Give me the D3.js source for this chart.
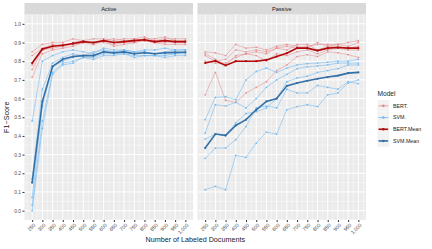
<!DOCTYPE html>
<meta charset='utf-8'>
<head>
    <title>F1 by labeled documents</title>
    <script src='https://cdn.jsdelivr.net/npm/d3@7'></script>
</head>
<style>
    body { margin: 0; background: white; }
    text { font-family: 'Liberation Sans', Arial, sans-serif; }
</style>
<svg></svg>
<script>
    var vWidth = 432, vHeight = 249;

    // x values (number of labeled documents)
    var docs = [250, 300, 350, 400, 450, 500, 550, 600, 650, 700, 750, 800, 850, 900, 950, 1000];
    var yTicks = [0, 0.1, 0.2, 0.3, 0.4, 0.5, 0.6, 0.7, 0.8, 0.9, 1.0];
    var panels = ['Active', 'Passive'];
    var models = ['BERT.', 'SVM.', 'BERT.Mean', 'SVM.Mean'];

    // Active - individual runs
    var activeBert = [
        [0.85, 0.89, 0.90, 0.90, 0.92, 0.91, 0.92, 0.92, 0.91, 0.92, 0.92, 0.93, 0.91, 0.92, 0.92, 0.92],
        [0.83, 0.87, 0.89, 0.88, 0.90, 0.91, 0.89, 0.91, 0.92, 0.91, 0.91, 0.92, 0.92, 0.93, 0.91, 0.91],
        [0.78, 0.86, 0.88, 0.89, 0.89, 0.90, 0.90, 0.91, 0.90, 0.90, 0.92, 0.91, 0.90, 0.91, 0.90, 0.90],
        [0.755, 0.86, 0.87, 0.88, 0.89, 0.90, 0.90, 0.90, 0.89, 0.90, 0.90, 0.91, 0.90, 0.90, 0.90, 0.90],
        [0.715, 0.84, 0.86, 0.87, 0.88, 0.90, 0.89, 0.91, 0.88, 0.89, 0.90, 0.91, 0.90, 0.89, 0.89, 0.89]
    ];
    var activeSvm = [
        [0.48, 0.80, 0.83, 0.85, 0.86, 0.85, 0.84, 0.87, 0.86, 0.86, 0.85, 0.86, 0.86, 0.87, 0.86, 0.86],
        [0.17, 0.65, 0.79, 0.82, 0.84, 0.83, 0.85, 0.86, 0.85, 0.86, 0.85, 0.85, 0.84, 0.85, 0.86, 0.86],
        [0.07, 0.56, 0.77, 0.80, 0.82, 0.83, 0.83, 0.85, 0.84, 0.85, 0.84, 0.85, 0.84, 0.84, 0.84, 0.85],
        [0.03, 0.48, 0.74, 0.79, 0.80, 0.82, 0.82, 0.84, 0.84, 0.84, 0.83, 0.83, 0.83, 0.83, 0.84, 0.84],
        [0.00, 0.44, 0.73, 0.78, 0.79, 0.82, 0.81, 0.83, 0.83, 0.84, 0.82, 0.83, 0.83, 0.82, 0.83, 0.83]
    ];
    var activeBertMean = [0.79, 0.865, 0.88, 0.885, 0.895, 0.905, 0.90, 0.91, 0.90, 0.905, 0.91, 0.915, 0.905, 0.91, 0.905, 0.905];
    var activeSvmMean = [0.15, 0.585, 0.772, 0.81, 0.825, 0.83, 0.83, 0.85, 0.845, 0.85, 0.84, 0.845, 0.84, 0.845, 0.847, 0.848];

    // Passive - individual runs
    var passiveBert = [
        [0.85, 0.845, 0.83, 0.89, 0.87, 0.875, 0.86, 0.88, 0.89, 0.88, 0.87, 0.90, 0.88, 0.89, 0.88, 0.90],
        [0.83, 0.80, 0.81, 0.86, 0.85, 0.86, 0.85, 0.87, 0.88, 0.87, 0.88, 0.89, 0.89, 0.89, 0.90, 0.91],
        [0.80, 0.79, 0.79, 0.82, 0.84, 0.85, 0.84, 0.87, 0.86, 0.89, 0.89, 0.86, 0.88, 0.88, 0.87, 0.88],
        [0.84, 0.81, 0.78, 0.83, 0.84, 0.83, 0.80, 0.84, 0.83, 0.85, 0.86, 0.84, 0.86, 0.87, 0.86, 0.86],
        [0.62, 0.74, 0.59, 0.58, 0.63, 0.66, 0.69, 0.75, 0.78, 0.825, 0.835, 0.825, 0.85, 0.845, 0.835, 0.82]
    ];
    var passiveSvm = [
        [0.487, 0.606, 0.61, 0.594, 0.70, 0.745, 0.763, 0.74, 0.763, 0.78, 0.787, 0.79, 0.795, 0.80, 0.80, 0.81],
        [0.415, 0.567, 0.56, 0.58, 0.55, 0.60, 0.66, 0.70, 0.73, 0.76, 0.77, 0.775, 0.78, 0.79, 0.79, 0.79],
        [0.383, 0.41, 0.40, 0.47, 0.52, 0.53, 0.55, 0.60, 0.69, 0.71, 0.72, 0.74, 0.75, 0.76, 0.78, 0.78],
        [0.28, 0.335, 0.335, 0.38, 0.45, 0.55, 0.56, 0.55, 0.65, 0.63, 0.63, 0.67, 0.66, 0.65, 0.69, 0.68],
        [0.112, 0.13, 0.112, 0.296, 0.285, 0.362, 0.42, 0.41, 0.54, 0.557, 0.567, 0.557, 0.62, 0.63, 0.683, 0.70]
    ];
    var passiveBertMean = [0.79, 0.802, 0.777, 0.80, 0.80, 0.80, 0.807, 0.825, 0.843, 0.87, 0.87, 0.857, 0.87, 0.873, 0.87, 0.87];
    var passiveSvmMean = [0.335, 0.41, 0.403, 0.456, 0.487, 0.54, 0.585, 0.60, 0.668, 0.683, 0.695, 0.706, 0.715, 0.723, 0.736, 0.74];

    var colors = {'BERT.': '#e3878c', 'SVM.': '#6cb6f2', 'BERT.Mean': '#b00a0a', 'SVM.Mean': '#3470a6'};

    var svg = d3.select('svg').attr('width', vWidth).attr('height', vHeight);

    var pTop = 14.5, pBottom = 220;
    var panelX = [[24.5, 193], [197.5, 366]];
    var y = d3.scaleLinear().domain([-0.05, 1.05]).range([pBottom, pTop]);

    var panelData = [
        {bert: activeBert, svm: activeSvm, bertMean: activeBertMean, svmMean: activeSvmMean},
        {bert: passiveBert, svm: passiveSvm, bertMean: passiveBertMean, svmMean: passiveSvmMean}
    ];

    panels.forEach(function(name, i) {
        var x = d3.scaleLinear().domain([212.5, 1037.5]).range(panelX[i]);
        var g = svg.append('g');
        var x0 = panelX[i][0], x1 = panelX[i][1];

        g.append('rect').attr('x', x0).attr('y', pTop).attr('width', x1 - x0).attr('height', pBottom - pTop)
            .attr('fill', '#ebebeb');

        // minor grid
        var xMinor = d3.range(225, 1026, 50);
        var yMinor = d3.range(-0.05, 1.06, 0.1);
        g.selectAll('.xmin').data(xMinor).enter().append('line')
            .attr('x1', function(d) { return x(d); }).attr('x2', function(d) { return x(d); })
            .attr('y1', pTop).attr('y2', pBottom).attr('stroke', '#fafafa').attr('stroke-width', 0.5);
        g.selectAll('.ymin').data(yMinor).enter().append('line')
            .attr('y1', function(d) { return y(d); }).attr('y2', function(d) { return y(d); })
            .attr('x1', x0).attr('x2', x1).attr('stroke', '#fafafa').attr('stroke-width', 0.5);
        // major grid
        g.selectAll('.xmaj').data(docs).enter().append('line')
            .attr('x1', function(d) { return x(d); }).attr('x2', function(d) { return x(d); })
            .attr('y1', pTop).attr('y2', pBottom).attr('stroke', 'white').attr('stroke-width', 1);
        g.selectAll('.ymaj').data(yTicks).enter().append('line')
            .attr('y1', function(d) { return y(d); }).attr('y2', function(d) { return y(d); })
            .attr('x1', x0).attr('x2', x1).attr('stroke', 'white').attr('stroke-width', 1);

        // strip
        g.append('rect').attr('x', x0).attr('y', 3).attr('width', x1 - x0).attr('height', pTop - 3)
            .attr('fill', '#d9d9d9');
        g.append('text').attr('x', (x0 + x1) / 2).attr('y', 10.8).attr('text-anchor', 'middle')
            .attr('font-size', 5.6).attr('fill', '#1a1a1a').text(name);

        // x axis
        var xAxis = g.append('g').attr('transform', 'translate(0,' + pBottom + ')')
            .call(d3.axisBottom(x).tickValues(docs).tickSize(2).tickPadding(0));
        xAxis.select('.domain').remove();
        xAxis.selectAll('line').attr('stroke', '#333');
        xAxis.selectAll('text').attr('font-size', 5.1).attr('fill', '#4d4d4d')
            .attr('text-anchor', 'end').attr('y', 0).attr('dy', '0.35em')
            .attr('transform', 'translate(1.8,4.3) rotate(-45)');

        var line = d3.line().x(function(d, k) { return x(docs[k]); }).y(function(d) { return y(d); });
        var pd = panelData[i];

        function drawSeries(vals, color, width, r, op) {
            g.append('path').datum(vals).attr('d', line).attr('fill', 'none')
                .attr('stroke', color).attr('stroke-width', width).attr('opacity', op);
            g.append('g').selectAll('circle').data(vals).enter().append('circle')
                .attr('cx', function(d, k) { return x(docs[k]); }).attr('cy', function(d) { return y(d); })
                .attr('r', r).attr('fill', color).attr('opacity', op);
        }
        pd.bert.forEach(function(run) { drawSeries(run, colors['BERT.'], 0.6, 0.9, 0.85); });
        pd.svm.forEach(function(run) { drawSeries(run, colors['SVM.'], 0.6, 0.9, 0.9); });
        drawSeries(pd.bertMean, colors['BERT.Mean'], 1.6, 1.1, 1);
        drawSeries(pd.svmMean, colors['SVM.Mean'], 1.6, 1.1, 1);
    });

    // y axis
    var yAxis = svg.append('g').attr('transform', 'translate(' + panelX[0][0] + ',0)')
        .call(d3.axisLeft(y).tickValues(yTicks).tickFormat(d3.format('.1f')).tickSize(2).tickPadding(1.5));
    yAxis.select('.domain').remove();
    yAxis.selectAll('line').attr('stroke', '#333');
    yAxis.selectAll('text').attr('font-size', 4.9).attr('fill', '#4d4d4d');

    // axis titles
    svg.append('text').attr('x', (panelX[0][0] + panelX[1][1]) / 2).attr('y', 241.5)
        .attr('text-anchor', 'middle').attr('font-size', 7.2).attr('fill', '#1a1a1a')
        .text('Number of Labeled Documents');
    svg.append('text').attr('transform', 'translate(9,' + ((pTop + pBottom) / 2) + ') rotate(-90)')
        .attr('text-anchor', 'middle').attr('font-size', 7.2).attr('fill', '#1a1a1a').text('F1\u2212Score');

    // legend
    var lg = svg.append('g').attr('transform', 'translate(377.5,0)');
    lg.append('text').attr('x', 0).attr('y', 96).attr('font-size', 6.6).attr('fill', '#1a1a1a').text('Model');
    var items = lg.selectAll('.item').data(models).enter().append('g')
        .attr('transform', function(d, k) { return 'translate(0,' + (100 + k * 11.7) + ')'; });
    items.append('rect').attr('width', 11.7).attr('height', 11.7).attr('fill', '#f2f2f2');
    items.append('line').attr('x1', 1).attr('x2', 10.7).attr('y1', 5.85).attr('y2', 5.85)
        .attr('stroke', function(d) { return colors[d]; })
        .attr('stroke-width', function(d) { return d.indexOf('Mean') > 0 ? 1.6 : 0.8; });
    items.append('circle').attr('cx', 5.85).attr('cy', 5.85).attr('r', 1.3)
        .attr('fill', function(d) { return colors[d]; });
    items.append('text').attr('x', 15.5).attr('y', 5.85).attr('dy', '0.35em').attr('font-size', 5.3)
        .attr('fill', '#1a1a1a').text(function(d) { return d; });
</script>
